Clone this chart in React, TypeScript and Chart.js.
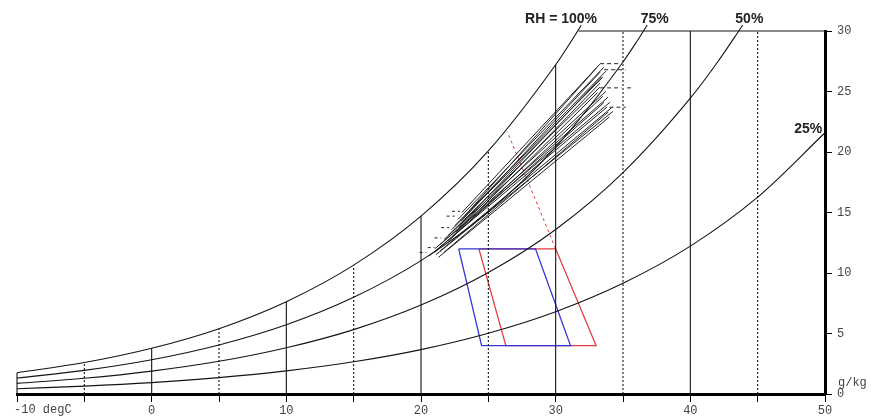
import { useEffect, useRef } from 'react';
import { Chart, registerables } from 'chart.js';
Chart.register(...registerables);

// Relative humidity curves (temperature degC, humidity ratio g/kg)
const rh100T = [-10, -5, 0, 5, 10, 15, 20, 25, 30, 31, 31.9];
const rh100W = [1.76, 2.6, 3.78, 5.4, 7.63, 10.65, 14.7, 20.09, 27.21, 28.88, 30.47];
const rh75T = [-10, -5, 0, 5, 10, 15, 20, 25, 30, 35, 36, 36.8];
const rh75W = [1.32, 1.95, 2.83, 4.05, 5.72, 7.99, 11.02, 15.07, 20.4, 27.44, 29.09, 30.5];
const rh50T = [-10, -5, 0, 5, 10, 15, 20, 25, 30, 35, 40, 42, 43.9];
const rh50W = [0.88, 1.3, 1.89, 2.7, 3.82, 5.32, 7.35, 10.04, 13.6, 18.3, 24.45, 27.4, 30.5];
const rh25T = [-10, -5, 0, 5, 10, 15, 20, 25, 30, 35, 40, 45, 50];
const rh25W = [0.44, 0.65, 0.94, 1.35, 1.91, 2.66, 3.67, 5.02, 6.8, 9.15, 12.22, 16.27, 21.59];

// Dry-bulb grid lines: position and top (saturation or 30)
const solidGridT = [-10, 0, 10, 20, 30, 40];
const solidGridTop = [1.76, 3.78, 7.63, 14.7, 27.21, 30];
const dashGridT = [-5, 5, 15, 25, 35, 45];
const dashGridTop = [2.6, 5.4, 10.65, 20.09, 30, 30];
const topLineT = [31.7, 50];
const topLineW = [30, 30];

// Climate trajectories (start -> end)
const trajStartT = [21.1, 21.4, 21.03, 21.4, 21.7, 22.0, 22.29, 22.52, 22.74, 23.04, 21.3, 21.7, 20.6, 21.0, 22.0, 22.3, 22.6, 22.8, 23.0, 23.3];
const trajStartW = [11.5, 11.8, 12.01, 12.34, 12.76, 13.09, 13.59, 13.92, 14.42, 15.0, 11.3, 11.7, 11.4, 11.7, 12.6, 13.0, 13.4, 13.8, 14.3, 14.8];
const trajEndT = [34.26, 34.18, 34.03, 33.88, 33.73, 33.28, 33.5, 33.73, 33.58, 33.28, 34.0, 33.9, 33.8, 33.6, 33.5, 33.1, 33.3, 33.4, 33.3, 33.0];
const trajEndW = [23.36, 23.69, 24.11, 24.52, 25.02, 25.35, 26.18, 26.68, 27.01, 27.26, 22.9, 23.3, 23.7, 24.1, 24.6, 24.9, 25.7, 26.2, 26.6, 26.9];

// Dashed tails of trajectories
const tailRightT0 = [33.3, 33.6, 33.3, 34.0, 35.3];
const tailRightT1 = [34.8, 35.2, 34.9, 35.2, 35.8];
const tailRightW = [27.3, 26.8, 25.3, 23.7, 25.3];
const tailLeftT0 = [22.3, 21.9, 21.5, 21.0, 20.5, 19.9];
const tailLeftT1 = [22.9, 22.5, 22.1, 21.5, 21.0, 20.4];
const tailLeftW = [15.1, 14.7, 13.75, 12.9, 12.1, 11.7];

// Comfort zones
const blueZoneT = [22.8, 28.5, 31.1, 24.5, 22.8];
const blueZoneW = [12, 12, 4, 4, 12];
const redZoneT = [24.3, 30.0, 33.0, 26.3, 24.3];
const redZoneW = [12, 12, 4, 4, 12];
const redDashT = [30.0, 26.4];
const redDashW = [12, 21.7];

// Text labels
const rhLabels = ['RH = 100%', '75%', '50%', '25%'];
const rhLabelT = [30.4, 37.36, 44.38, 48.76];
const rhLabelW = [31.0, 31.0, 31.0, 21.85];

const pts = (xs: number[], ys: number[]) => xs.map((x, i) => ({ x, y: ys[i] }));

const BLACK = '#141414';

export default function App() {
  const ref = useRef<HTMLCanvasElement | null>(null);
  useEffect(() => {
    if (!ref.current) return;
    const datasets: any[] = [];
    const line = (data: any[], color: string, width = 1, dash: number[] = [], smooth = false) =>
      datasets.push({
        data,
        showLine: true,
        borderColor: color,
        borderWidth: width,
        borderDash: dash,
        pointRadius: 0,
        fill: false,
        clip: 12,
        cubicInterpolationMode: smooth ? 'monotone' : 'default',
        tension: 0,
      });

    solidGridT.forEach((t, i) => line([{ x: t, y: 0 }, { x: t, y: solidGridTop[i] }], BLACK, 1.1));
    dashGridT.forEach((t, i) => line([{ x: t, y: 0 }, { x: t, y: dashGridTop[i] }], BLACK, 1.1, [2, 2]));
    line(pts(topLineT, topLineW), BLACK, 1.1);

    line(pts(rh100T, rh100W), BLACK, 1.1, [], true);
    line(pts(rh75T, rh75W), BLACK, 1.1, [], true);
    line(pts(rh50T, rh50W), BLACK, 1.1, [], true);
    line(pts(rh25T, rh25W), BLACK, 1.1, [], true);

    trajStartT.forEach((t, i) =>
      line([{ x: t, y: trajStartW[i] }, { x: trajEndT[i], y: trajEndW[i] }], '#222', 1)
    );
    tailRightW.forEach((w, i) =>
      line([{ x: tailRightT0[i], y: w }, { x: tailRightT1[i], y: w }], '#222', 1, [4, 3])
    );
    tailLeftW.forEach((w, i) =>
      line([{ x: tailLeftT0[i], y: w }, { x: tailLeftT1[i], y: w }], '#222', 1, [3, 3])
    );

    line(pts(blueZoneT, blueZoneW), '#3535d8', 1.3);
    line(pts(redZoneT, redZoneW), '#e43c3c', 1.3);
    line(pts(redDashT, redDashW), '#e43c3c', 1, [3, 3]);

    const textPlugin = {
      id: 'psyText',
      afterDraw(chart: any) {
        const ctx = chart.ctx;
        const xs = chart.scales.x;
        const ys = chart.scales.y;
        ctx.save();
        ctx.fillStyle = '#222';
        ctx.textBaseline = 'middle';
        ctx.textAlign = 'center';
        ctx.font = 'bold 14px "Liberation Sans", Arial, sans-serif';
        rhLabels.forEach((s, i) => {
          ctx.fillText(s, xs.getPixelForValue(rhLabelT[i]), ys.getPixelForValue(rhLabelW[i]));
        });
        ctx.font = '12px "Liberation Mono", monospace';
        ctx.fillStyle = '#444';
        ctx.textAlign = 'left';
        ctx.fillText('-10 degC', xs.getPixelForValue(-10) - 3, chart.chartArea.bottom + 16);
        ctx.fillText('g/kg', chart.chartArea.right + 13, ys.getPixelForValue(0) - 11);
        ctx.restore();
      },
    };

    const chart = new Chart(ref.current, {
      type: 'scatter',
      data: { datasets },
      plugins: [textPlugin],
      options: {
        animation: false,
        responsive: false,
        devicePixelRatio: 1,
        layout: { padding: { left: 17, top: 31, right: 0, bottom: 0 } },
        plugins: { legend: { display: false }, tooltip: { enabled: false } },
        scales: {
          x: {
            type: 'linear',
            min: -10,
            max: 50,
            afterFit: (s: any) => { s.height = 25; },
            border: { display: true, width: 3, color: '#000' },
            grid: { drawOnChartArea: false, drawTicks: true, tickLength: 8, color: '#000', lineWidth: 1 },
            ticks: {
              stepSize: 5,
              autoSkip: false,
              maxRotation: 0,
              padding: 2,
              color: '#444',
              font: { family: '"Liberation Mono", monospace', size: 12 },
              callback: (v: any) => (v % 10 === 0 && v !== -10 ? String(v) : ''),
            },
          },
          y: {
            type: 'linear',
            position: 'right',
            min: 0,
            max: 30,
            afterFit: (s: any) => { s.width = 46; },
            border: { display: true, width: 3, color: '#000' },
            grid: { drawOnChartArea: false, drawTicks: true, tickLength: 7, color: '#000', lineWidth: 1 },
            ticks: {
              stepSize: 5,
              padding: 5,
              color: '#444',
              font: { family: '"Liberation Mono", monospace', size: 12 },
            },
          },
        },
      },
    });
    return () => chart.destroy();
  }, []);

  return (
    <div style={{ position: 'absolute', left: 0, top: 0, width: 871, height: 419, background: '#fff' }}>
      <canvas ref={ref} width={871} height={419} />
    </div>
  );
}
